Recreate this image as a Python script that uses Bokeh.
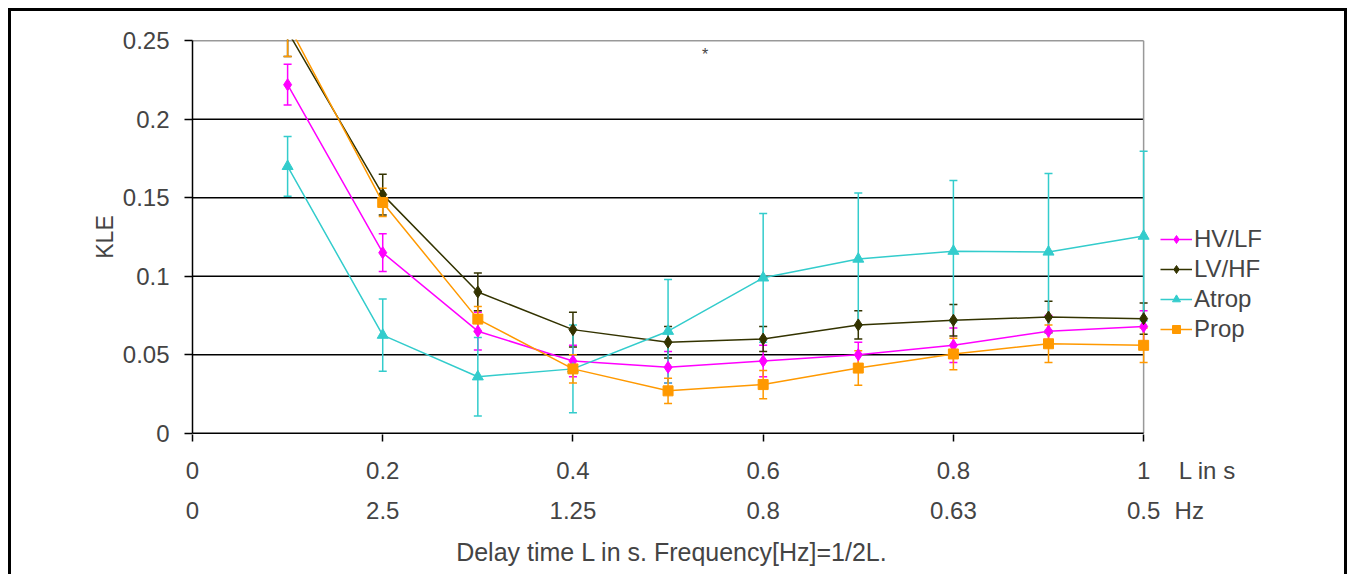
from bokeh.plotting import figure
from bokeh.models import FixedTicker, LinearAxis, Legend, LegendItem, Label, Range1d
from bokeh.embed import file_html
from bokeh.resources import INLINE

# ---- data ----
delay = [0.1, 0.2, 0.3, 0.4, 0.5, 0.6, 0.7, 0.8, 0.9, 1.0]

hv_lf = [0.222, 0.115, 0.065, 0.046, 0.042, 0.046, 0.050, 0.056, 0.065, 0.068]
hv_lf_err = [0.013, 0.012, 0.012, 0.010, 0.010, 0.010, 0.008, 0.011, 0.010, 0.010]

lv_hf = [0.256, 0.152, 0.090, 0.066, 0.058, 0.060, 0.069, 0.072, 0.074, 0.073]
lv_hf_err = [0.016, 0.013, 0.012, 0.011, 0.010, 0.008, 0.009, 0.010, 0.010, 0.010]

atrop = [0.170, 0.0625, 0.036, 0.041, 0.065, 0.099, 0.111, 0.116, 0.1155, 0.1256]
atrop_err = [0.019, 0.023, 0.025, 0.028, 0.033, 0.041, 0.042, 0.045, 0.050, 0.054]

prop = [0.261, 0.147, 0.0727, 0.041, 0.027, 0.031, 0.0415, 0.0505, 0.057, 0.056]
prop_err = [0.021, 0.009, 0.008, 0.009, 0.008, 0.009, 0.011, 0.010, 0.012, 0.011]

series_names = ["HV/LF", "LV/HF", "Atrop", "Prop"]
series_colors = ["#FF00FF", "#333300", "#33CCCC", "#FF9900"]
series_markers = ["diamond", "diamond", "triangle", "square"]
series_sizes = [12, 12, 11, 10]

x_ticks = [0, 0.2, 0.4, 0.6, 0.8, 1.0]
l_labels = ["0", "0.2", "0.4", "0.6", "0.8", "1"]
hz_labels = ["0", "2.5", "1.25", "0.8", "0.63", "0.5"]
l_unit = "L in s"
hz_unit = "Hz"
x_title = "Delay time L in s. Frequency[Hz]=1/2L."
y_ticks = [0, 0.05, 0.1, 0.15, 0.2, 0.25]
y_labels = ["0", "0.05", "0.1", "0.15", "0.2", "0.25"]
grid_ticks = [0.05, 0.1, 0.15, 0.2]

FONT = "Liberation Sans"
FS = "24px"

X_LO, X_HI = 0.0, 1.0          # data extent of the plotted axis
X_VIEW = 1.207                 # extra room on the right for legend / unit captions
Y_LO, Y_HI = 0.0, 0.25
PAD = 0.0008                   # keeps the frame lines fully visible
L_UNIT_POS = 1.067             # positions of the captions on the x scale
HZ_UNIT_POS = 1.048
TITLE_POS = 0.504

p = figure(width=1339, height=566, output_backend="svg", toolbar_location=None,
           x_range=Range1d(X_LO, X_VIEW), y_range=Range1d(Y_LO - PAD, Y_HI + PAD),
           min_border_left=181, min_border_right=10, min_border_top=28,
           min_border_bottom=143, x_axis_location=None, y_axis_location=None)
p.styles = {"border-top": "3px solid black", "border-left": "3px solid black",
            "border-right": "3px solid black", "margin-left": "8px", "margin-top": "8px"}
p.background_fill_color = "white"
p.border_fill_color = "white"
p.outline_line_color = None
p.xgrid.visible = False
p.ygrid.visible = False

# frame / grid lines limited to the plotted extent
p.segment(x0=[X_LO] * len(grid_ticks), y0=grid_ticks, x1=[X_HI] * len(grid_ticks),
          y1=grid_ticks, line_color="black", line_width=1.5)
p.segment(x0=[X_LO, X_HI], y0=[Y_HI, Y_LO], x1=[X_HI, X_HI], y1=[Y_HI, Y_HI],
          line_color="#999999", line_width=1.5)
p.segment(x0=[X_LO], y0=[Y_LO], x1=[X_HI], y1=[Y_LO], line_color="black", line_width=1.5)

# y axis
yax = LinearAxis(ticker=FixedTicker(ticks=y_ticks), bounds=(Y_LO, Y_HI),
                 major_label_overrides={t: l for t, l in zip(y_ticks, y_labels)})
yax.axis_label = "KLE"
yax.axis_label_text_font = FONT
yax.axis_label_text_font_size = "23px"
yax.axis_label_text_font_style = "normal"
yax.axis_label_standoff = 2
yax.major_label_text_font = FONT
yax.major_label_text_font_size = FS
yax.major_label_standoff = 15
yax.major_tick_out = 8
yax.major_tick_in = 0
yax.minor_tick_line_color = None
yax.axis_line_width = 1.5
yax.major_tick_line_width = 1.5
p.add_layout(yax, "left")

# x axis row 1 (delay in s); tick marks via minor ticks, unit caption as extra label
row1_ticks = x_ticks + [L_UNIT_POS]
row1_labels = l_labels + [l_unit]
xax = LinearAxis(ticker=FixedTicker(ticks=row1_ticks, minor_ticks=x_ticks),
                 major_label_overrides={t: l for t, l in zip(row1_ticks, row1_labels)})
xax.axis_line_color = None
xax.major_tick_line_color = None
xax.major_tick_out = 0
xax.major_tick_in = 0
xax.minor_tick_line_color = "black"
xax.minor_tick_line_width = 1.5
xax.minor_tick_out = 7
xax.minor_tick_in = 0
xax.major_label_text_font = FONT
xax.major_label_text_font_size = FS
xax.major_label_standoff = 15
p.add_layout(xax, "below")

# x axis row 2 (frequency in Hz)
row2_ticks = x_ticks + [HZ_UNIT_POS]
row2_labels = hz_labels + [hz_unit]
xax2 = LinearAxis(ticker=FixedTicker(ticks=row2_ticks),
                  major_label_overrides={t: l for t, l in zip(row2_ticks, row2_labels)})
xax2.axis_line_color = None
xax2.major_tick_line_color = None
xax2.minor_tick_line_color = None
xax2.major_tick_out = 0
xax2.major_tick_in = 0
xax2.major_label_text_font = FONT
xax2.major_label_text_font_size = FS
xax2.major_label_standoff = 10
p.add_layout(xax2, "below")

# x axis title row (centred under the plotted extent)
xax3 = LinearAxis(ticker=FixedTicker(ticks=[TITLE_POS]),
                  major_label_overrides={TITLE_POS: x_title})
xax3.axis_line_color = None
xax3.major_tick_line_color = None
xax3.minor_tick_line_color = None
xax3.major_tick_out = 0
xax3.major_tick_in = 0
xax3.major_label_text_font = FONT
xax3.major_label_text_font_size = "25px"
xax3.major_label_standoff = 11
p.add_layout(xax3, "below")

all_vals = [hv_lf, lv_hf, atrop, prop]
all_errs = [hv_lf_err, lv_hf_err, atrop_err, prop_err]
for col, vals, errs in zip(series_colors, all_vals, all_errs):
    lo = [v - e for v, e in zip(vals, errs)]
    hi = [v + e for v, e in zip(vals, errs)]
    p.segment(x0=delay, y0=lo, x1=delay, y1=hi, line_color=col, line_width=1.5)
    p.scatter(x=delay, y=lo, marker="dash", size=8, line_color=col, line_width=1.5)
    p.scatter(x=delay, y=hi, marker="dash", size=8, line_color=col, line_width=1.5)

items = []
for name, col, mk, sz, vals in zip(series_names, series_colors, series_markers,
                                   series_sizes, all_vals):
    ln = p.line(x=delay, y=vals, line_color=col, line_width=1.5)
    sc = p.scatter(x=delay, y=vals, marker=mk, size=sz, fill_color=col, line_color=col)
    items.append(LegendItem(label=name, renderers=[ln, sc]))

legend = Legend(items=items, location=(968, 91))
legend.border_line_color = None
legend.background_fill_alpha = 0
legend.label_text_font = FONT
legend.label_text_font_size = "24px"
legend.glyph_width = 32
legend.glyph_height = 20
legend.label_standoff = 2
legend.spacing = 2
legend.padding = 0
legend.margin = 0
p.add_layout(legend)

p.add_layout(Label(x=0.539, y=0.241, text="*", text_font=FONT,
                   text_font_size="16px", text_align="center", text_baseline="middle"))

open("out.html", "w").write(file_html(p, INLINE))
